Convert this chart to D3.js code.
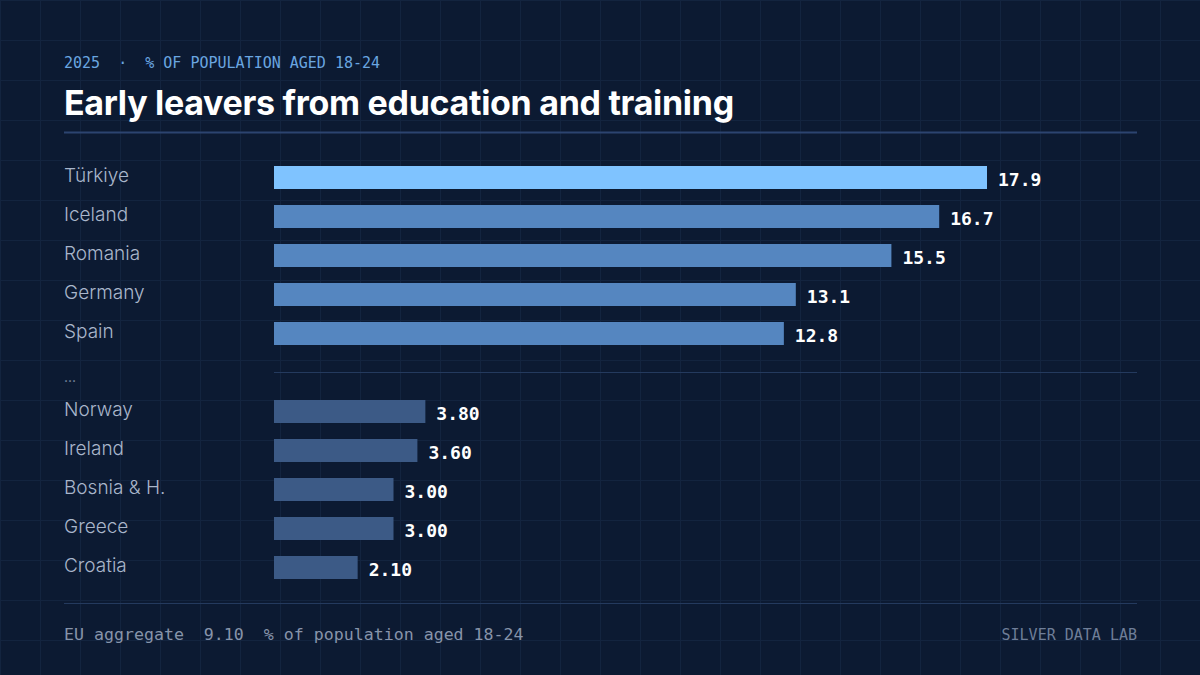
<!DOCTYPE html>
<html><head><meta charset="utf-8">
<script src="https://cdn.jsdelivr.net/npm/d3@7"></script>
<style>
html,body{margin:0;padding:0;background:#0c1a32;}
svg{display:block;}
</style></head>
<body>
<svg id="chart" width="1200" height="675"></svg>
<script>
const topCountries = ["Türkiye","Iceland","Romania","Germany","Spain"];
const topValues = [17.9,16.7,15.5,13.1,12.8];
const topLabels = ["17.9","16.7","15.5","13.1","12.8"];
const bottomCountries = ["Norway","Ireland","Bosnia & H.","Greece","Croatia"];
const bottomValues = [3.8,3.6,3.0,3.0,2.1];
const bottomLabels = ["3.80","3.60","3.00","3.00","2.10"];
const euAggregate = "9.10";

const svg = d3.select("#chart");
const W = 1200, H = 675;
const mono = "'DejaVu Sans Mono', 'Liberation Mono', monospace";
const sans = "Inter, 'Noto Sans', sans-serif";

svg.append("rect").attr("width",W).attr("height",H).attr("fill","#0c1a32");
// grid
const g = svg.append("g");
d3.range(0, W+1, 40).forEach(x=>g.append("line").attr("x1",x+0.5).attr("x2",x+0.5).attr("y1",0).attr("y2",H).attr("stroke","#13243f").attr("stroke-width",1));
d3.range(0, H+1, 40).forEach(y=>g.append("line").attr("y1",y+0.5).attr("y2",y+0.5).attr("x1",0).attr("x2",W).attr("stroke","#13243f").attr("stroke-width",1));

svg.append("text").attr("x",64).attr("y",68).attr("font-family",mono).attr("font-size",15).attr("fill","#6aa6e0")
  .attr("xml:space","preserve").text("2025  ·  % OF POPULATION AGED 18-24");
svg.append("text").attr("x",64).attr("y",115).attr("font-family",sans).attr("font-weight",700).attr("font-size",34)
  .attr("letter-spacing","-0.3").attr("fill","#ffffff").text("Early leavers from education and training");
svg.append("line").attr("x1",64).attr("x2",1137).attr("y1",132.5).attr("y2",132.5).attr("stroke","#2c4470").attr("stroke-width",2);

const x = d3.scaleLinear().domain([0,17.9]).range([274,987]);
const yTop = d3.scaleBand().domain(topCountries).range([166,345]).paddingInner(0.41).paddingOuter(0);
const yBot = d3.scaleBand().domain(bottomCountries).range([400,579]).paddingInner(0.41).paddingOuter(0);

function drawGroup(cats, vals, labels, y, colorFn){
  const grp = svg.append("g");
  cats.forEach((c,i)=>{
    const by = y(c), bh = y.bandwidth();
    grp.append("rect").attr("x",x(0)).attr("y",by).attr("width",x(vals[i])-x(0)).attr("height",bh).attr("fill",colorFn(i));
    grp.append("text").attr("x",64).attr("y",by+bh/2+4.5).attr("font-family",sans).attr("font-size",19).attr("font-weight",300)
      .attr("fill","#a9b6cb").text(c);
    grp.append("text").attr("x",x(vals[i])+11).attr("y",by+bh/2+8.5).attr("font-family",mono).attr("font-weight",700)
      .attr("font-size",18).attr("fill","#ffffff").text(labels[i]);
  });
}
drawGroup(topCountries, topValues, topLabels, yTop, i=> i===0 ? "#7fc3ff" : "#5586c0");
// ellipsis + separator
svg.append("text").attr("x",64).attr("y",382).attr("font-family",sans).attr("font-size",14).attr("fill","#7d8ba3").text("...");
svg.append("line").attr("x1",274).attr("x2",1137).attr("y1",372.5).attr("y2",372.5).attr("stroke","#243a5e").attr("stroke-width",1);
drawGroup(bottomCountries, bottomValues, bottomLabels, yBot, i=>"#3c5a86");

svg.append("line").attr("x1",64).attr("x2",1137).attr("y1",603.5).attr("y2",603.5).attr("stroke","#243a5e").attr("stroke-width",1);
svg.append("text").attr("x",64).attr("y",640).attr("font-family",mono).attr("font-size",16.6).attr("fill","#8794aa")
  .attr("xml:space","preserve").text("EU aggregate  " + euAggregate + "  % of population aged 18-24");
svg.append("text").attr("x",1137).attr("y",640).attr("text-anchor","end").attr("font-family",mono).attr("font-size",15)
  .attr("fill","#6f7e98").text("SILVER DATA LAB");
</script>
</body></html>
